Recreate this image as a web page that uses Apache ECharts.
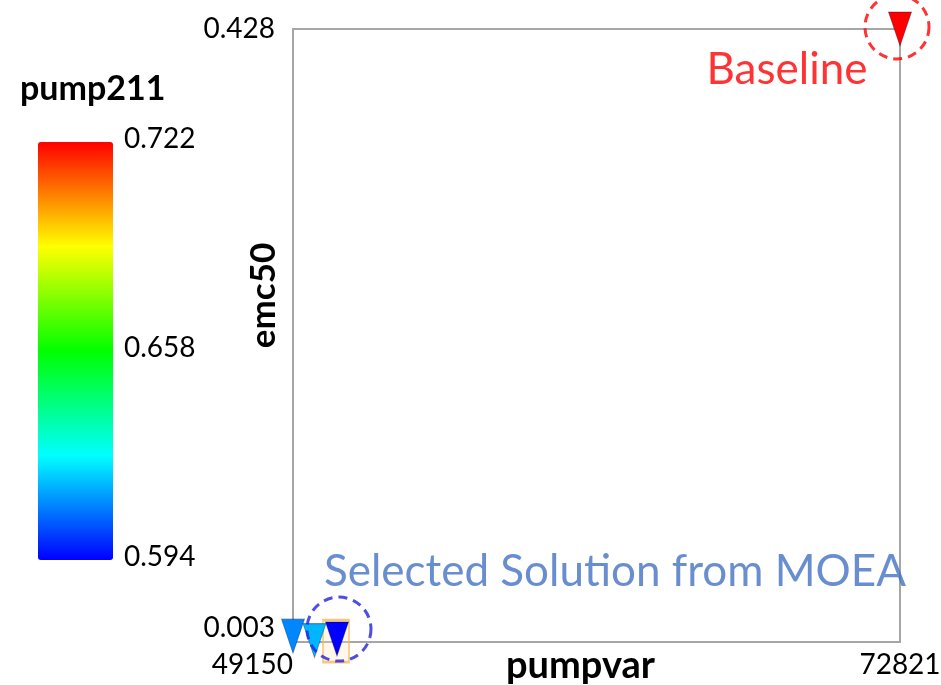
<!DOCTYPE html>
<html>
<head>
<meta charset="utf-8">
<script src="https://cdn.jsdelivr.net/npm/echarts@6/dist/echarts.min.js"></script>
<style>
  html, body { margin: 0; padding: 0; background: #ffffff; }
  #chart { width: 941px; height: 685px; }
</style>
</head>
<body>
<div id="chart"></div>
<script>
// Solutions: decision objectives and the pump211 attribute used for colouring
const pumpvar = [72821, 49150, 49988, 50866];
const emc50   = [0.428, 0.007, 0.004, 0.005];
const pump211 = [0.722, 0.611, 0.617, 0.594];
const baselineIndex = 0;
const selectedIndex = 3;

// Axis and colour bar tick labels
const xTicks = [49150, 72821];
const yTicks = [0.003, 0.428];
const colorTicks = [0.594, 0.658, 0.722];

const FONT = 'Lato, Carlito, "Open Sans", sans-serif';
const jet = ['#0000ff', '#00ffff', '#00ff00', '#ffff00', '#ff0000'];

// Colour bar geometry
const cbLeft = 38, cbTop = 142, cbWidth = 75, cbHeight = 418;
const cbMin = colorTicks[0], cbMax = colorTicks[colorTicks.length - 1];

const points = pumpvar.map((x, i) => [x, emc50[i], pump211[i]]);

const chart = echarts.init(document.getElementById('chart'));

const colorLabels = colorTicks.map(v => ({
  type: 'text',
  left: 124,
  top: cbTop + (cbMax - v) / (cbMax - cbMin) * cbHeight - 17,
  style: { text: v.toFixed(3), font: '28px ' + FONT, fill: '#000' }
}));

chart.setOption({
  animation: false,
  title: {
    text: 'pump211',
    left: 20, top: 72, padding: 0,
    textStyle: { fontFamily: FONT, fontSize: 34, fontWeight: 'bold', color: '#000' }
  },
  grid: {
    left: 293, right: 41, top: 29, bottom: 43,
    containLabel: false,
    outerBoundsMode: 'none',
    show: true, borderColor: '#a6a6a6', borderWidth: 2, backgroundColor: '#fff'
  },
  xAxis: {
    type: 'value',
    min: xTicks[0], max: xTicks[xTicks.length - 1],
    name: 'pumpvar',
    nameLocation: 'middle', nameGap: 5,
    nameMoveOverlap: false,
    nameTextStyle: { fontFamily: FONT, fontSize: 38, fontWeight: 'bold', color: '#000', padding: [0, 32, 0, 0] },
    axisLine: { lineStyle: { color: '#a6a6a6', width: 2 } },
    axisTick: { show: false },
    splitLine: { show: false },
    axisLabel: {
      customValues: xTicks,
      alignMinLabel: 'right',
      margin: 9,
      fontFamily: FONT, fontSize: 28, color: '#000',
      formatter: v => String(Math.round(v))
    }
  },
  yAxis: {
    type: 'value',
    min: yTicks[0], max: yTicks[yTicks.length - 1],
    name: 'emc50',
    nameLocation: 'middle', nameGap: 12,
    nameMoveOverlap: false,
    nameTextStyle: { fontFamily: FONT, fontSize: 35, fontWeight: 'bold', color: '#000', padding: [0, 0, 0, 80] },
    axisLine: { lineStyle: { color: '#a6a6a6', width: 2 } },
    axisTick: { show: false },
    splitLine: { show: false },
    axisLabel: {
      customValues: yTicks,
      verticalAlignMinLabel: 'bottom',
      margin: 18,
      fontFamily: FONT, fontSize: 28, color: '#000',
      formatter: v => v.toFixed(3)
    }
  },
  visualMap: {
    type: 'continuous',
    seriesIndex: 1,
    dimension: 2,
    min: cbMin, max: cbMax,
    inRange: { color: jet },
    left: cbLeft, top: cbTop,
    itemWidth: cbWidth, itemHeight: cbHeight,
    padding: 0,
    calculable: false,
    realtime: false,
    hoverLink: false
  },
  graphic: colorLabels,
  series: [
    {
      // highlight box behind the selected solution
      type: 'scatter',
      silent: true,
      z: 1,
      symbol: 'rect',
      symbolSize: [26, 42],
      symbolOffset: [-1, 2],
      itemStyle: { color: 'rgba(255, 225, 180, 0.35)', borderColor: '#f5b962', borderWidth: 2 },
      data: [points[selectedIndex]]
    },
    {
      type: 'scatter',
      z: 2,
      symbol: 'triangle',
      symbolRotate: 180,
      symbolSize: [23, 34],
      itemStyle: { borderColor: 'rgba(0, 0, 40, 0.35)', borderWidth: 1, opacity: 1 },
      data: points
    },
    {
      // dashed callout rings with their captions
      type: 'scatter',
      silent: true,
      z: 3,
      symbol: 'circle',
      data: [
        {
          value: points[baselineIndex],
          symbolSize: 64,
          symbolOffset: [-3, -2],
          itemStyle: { color: 'rgba(0,0,0,0)', borderColor: '#ff0000', borderWidth: 3, borderType: [9, 6] },
          label: {
            show: true, position: 'inside', offset: [-110, 43],
            formatter: 'Baseline',
            fontFamily: FONT, fontSize: 44, color: '#ff0000'
          }
        },
        {
          value: points[selectedIndex],
          symbolSize: 64,
          symbolOffset: [2, -10],
          itemStyle: { color: 'rgba(0,0,0,0)', borderColor: '#2222dd', borderWidth: 3, borderType: [9, 6] },
          label: {
            show: true, position: 'inside', offset: [276, -57],
            formatter: 'Selected Solution from MOEA',
            fontFamily: FONT, fontSize: 44, color: '#4472c4'
          }
        }
      ]
    }
  ]
});
</script>
</body>
</html>
